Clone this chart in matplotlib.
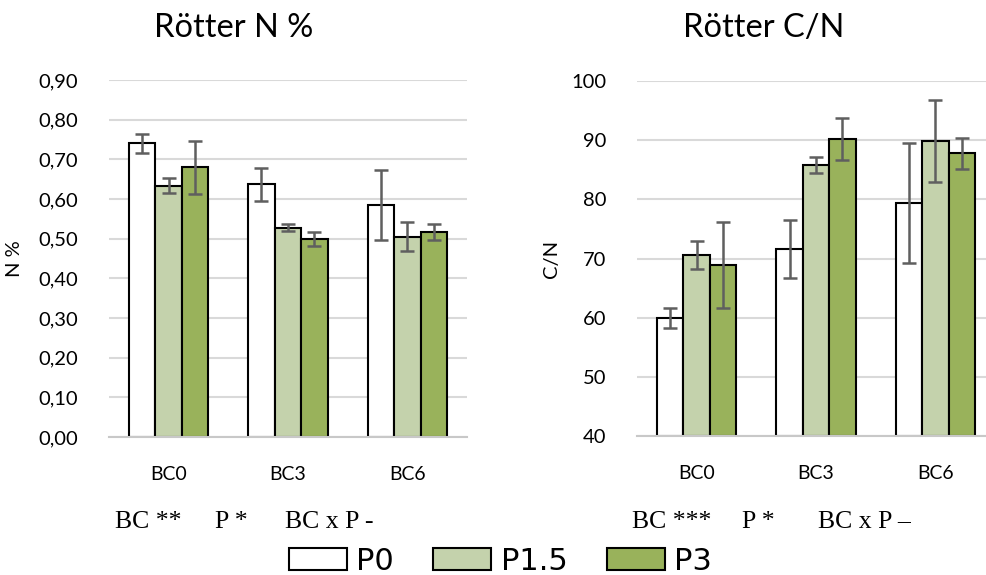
import matplotlib

matplotlib.use("Agg")

import matplotlib.pyplot as plt
import numpy as np
from matplotlib.patches import Patch

categories = ["BC0", "BC3", "BC6"]
series = ["P0", "P1.5", "P3"]

n_values = [
    [0.741, 0.637, 0.585],
    [0.633, 0.528, 0.505],
    [0.680, 0.500, 0.517],
]
n_errors = [
    [0.024, 0.042, 0.089],
    [0.019, 0.009, 0.036],
    [0.067, 0.018, 0.020],
]

cn_values = [
    [60.0, 71.6, 79.4],
    [70.6, 85.8, 89.9],
    [68.9, 90.2, 87.8],
]
cn_errors = [
    [1.7, 4.9, 10.1],
    [2.4, 1.4, 6.9],
    [7.2, 3.5, 2.6],
]

n_stats = ["BC **", "P *", "BC x P -"]
cn_stats = ["BC ***", "P *", "BC x P \u2013"]

colors = ["#ffffff", "#c4d2ac", "#99b25b"]
sans = ["Lato", "DejaVu Sans"]
serif = ["Liberation Serif", "DejaVu Serif"]

fig = plt.figure(figsize=(9.87, 5.75), dpi=100)


def draw_panel(ax, values, errors, ylim, yticks, fmt, ylabel):
    x = np.arange(len(categories))
    width = 0.222
    for i, (vals, errs) in enumerate(zip(values, errors)):
        pos = x + (i - 1) * width
        ax.bar(pos, np.array(vals) - ylim[0], width, bottom=ylim[0], color=colors[i],
               edgecolor="black", linewidth=1.5, zorder=2)
        ax.errorbar(pos, vals, yerr=errs, fmt="none", ecolor="#5f5f5f",
                    elinewidth=1.8, capsize=5, capthick=1.8, zorder=3)
    ax.set_xlim(-0.5, len(categories) - 0.5)
    ax.set_ylim(*ylim)
    ax.set_yticks(yticks)
    ax.set_yticklabels([fmt(v) for v in yticks], fontfamily=sans, fontsize=14.5)
    ax.set_xticks(x)
    ax.set_xticklabels(categories, fontfamily=sans, fontsize=14)
    ax.tick_params(axis="both", length=0)
    ax.tick_params(axis="y", pad=22)
    ax.tick_params(axis="x", pad=21)
    ax.grid(axis="y", color="#d9d9d9", linewidth=1.5, zorder=0)
    ax.set_axisbelow(True)
    for side in ["top", "right", "left"]:
        ax.spines[side].set_visible(False)
    ax.spines["bottom"].set_color("#c8c8c8")
    ax.spines["bottom"].set_linewidth(1.5)
    ax.set_ylabel(ylabel, fontfamily=sans, fontsize=14.5)


ax1 = fig.add_axes([0.1104, 0.240, 0.3627, 0.6209])
draw_panel(ax1, n_values, n_errors, (0, 0.9), np.arange(0, 0.91, 0.1),
           lambda v: f"{v:.2f}".replace(".", ","), "N %")
ax1.yaxis.set_label_coords(-0.24, 0.5)

ax2 = fig.add_axes([0.6454, 0.2417, 0.3627, 0.6174])
draw_panel(ax2, cn_values, cn_errors, (40, 100), np.arange(40, 101, 10),
           lambda v: f"{v:.0f}", "C/N")
ax2.yaxis.set_label_coords(-0.215, 0.5)

fig.text(234 / 987, 1 - 28 / 575, "Rötter N %", ha="center", va="center",
         fontfamily=sans, fontsize=23.5)
fig.text(764 / 987, 1 - 28 / 575, "Rötter C/N", ha="center", va="center",
         fontfamily=sans, fontsize=23.5)

# significance notes under each panel
for xs, labels in [([115, 215, 285], n_stats), ([632, 742, 818], cn_stats)]:
    for xp, label in zip(xs, labels):
        fig.text(xp / 987, 1 - 522 / 575, label, ha="left", va="center",
                 fontfamily=serif, fontsize=18.5)

handles = [Patch(facecolor=c, edgecolor="black", linewidth=1.5) for c in colors]
fig.legend(handles, series, loc="center", bbox_to_anchor=(0.507, 1 - 561 / 575),
           ncol=3, frameon=False, handlelength=1.9, handleheight=0.75,
           handletextpad=0.3, columnspacing=1.3,
           prop={"family": ["Liberation Sans Narrow", "DejaVu Sans"], "size": 22})

fig.savefig("out.png", dpi=100)
